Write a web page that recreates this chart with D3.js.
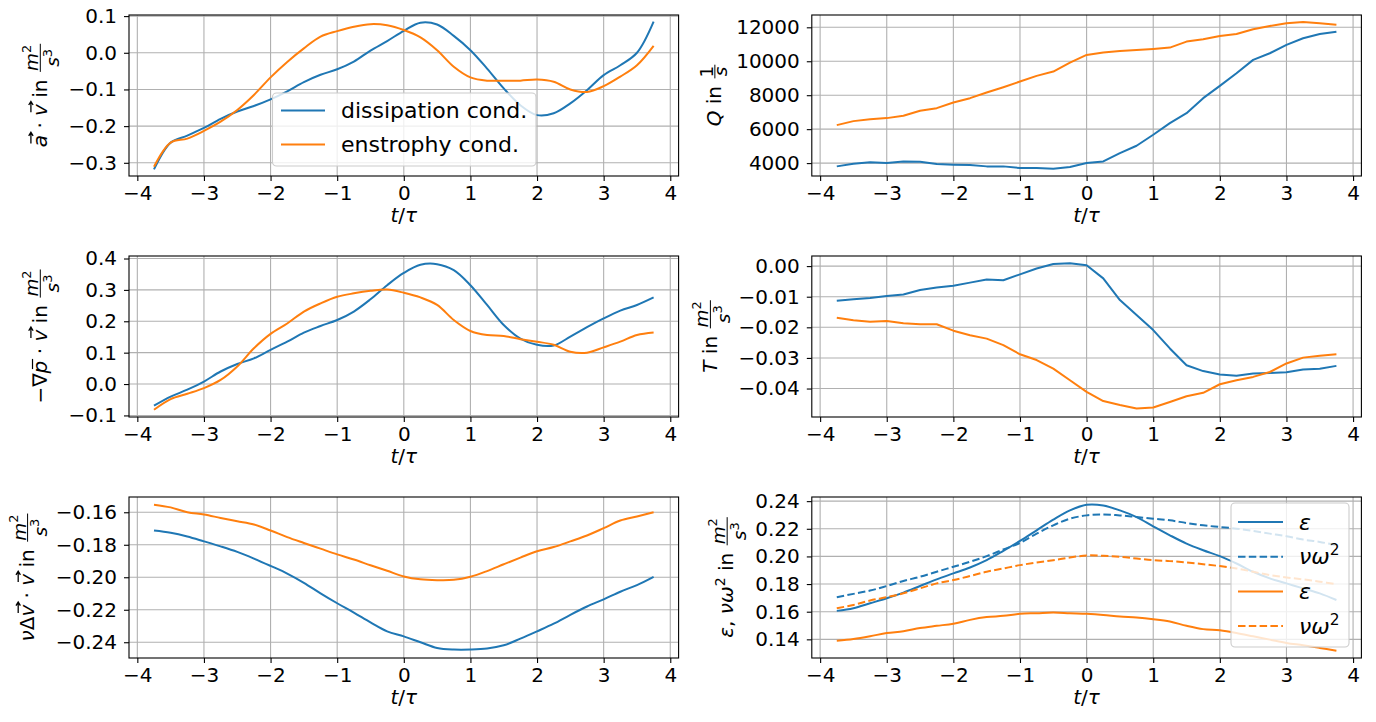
<!DOCTYPE html>
<html>
<head>
<meta charset="utf-8">
<script src="https://cdn.jsdelivr.net/npm/d3@7"></script>
<style>
  html, body { margin: 0; padding: 0; background: #fff; }
  svg { display: block; font-family: "DejaVu Sans", sans-serif; }
</style>
</head>
<body>
<svg id="fig" width="1376" height="722"></svg>
<script>
// ---- time axis (t / tau) shared by all panels ----
const tGrid = [-3.75, -3.5, -3.25, -3.0, -2.75, -2.5, -2.25, -2.0, -1.75, -1.5, -1.25, -1.0,
  -0.75, -0.5, -0.25, 0.0, 0.25, 0.5, 0.75, 1.0, 1.25, 1.5, 1.75, 2.0, 2.25, 2.5, 2.75,
  3.0, 3.25, 3.5, 3.75];
const xTicks = [-4, -3, -2, -1, 0, 1, 2, 3, 4];
const xTickLabels = ["\u22124", "\u22123", "\u22122", "\u22121", "0", "1", "2", "3", "4"];

// ---- a . v ----
const avDiss = [-0.318, -0.245, -0.226, -0.205, -0.180, -0.160, -0.145, -0.127, -0.105, -0.080,
  -0.060, -0.045, -0.024, 0.006, 0.032, 0.060, 0.082, 0.077, 0.046, 0.007, -0.043, -0.097,
  -0.143, -0.170, -0.165, -0.138, -0.102, -0.061, -0.034, 0.000, 0.085];
const avEns = [-0.311, -0.245, -0.234, -0.213, -0.188, -0.156, -0.115, -0.067, -0.025, 0.012,
  0.044, 0.059, 0.071, 0.078, 0.075, 0.062, 0.042, 0.007, -0.038, -0.067, -0.076, -0.076,
  -0.076, -0.073, -0.079, -0.100, -0.107, -0.091, -0.065, -0.034, 0.019];
const avTicks = [-0.3, -0.2, -0.1, 0.0, 0.1];
const avTickLabels = ["\u22120.3", "\u22120.2", "\u22120.1", "0.0", "0.1"];

// ---- Q ----
const qDiss = [3807, 3964, 4043, 4003, 4101, 4082, 3945, 3905, 3886, 3807, 3807, 3709, 3709,
  3670, 3768, 4003, 4101, 4591, 5022, 5670, 6355, 6943, 7825, 8550, 9295, 10080, 10471, 10961,
  11353, 11608, 11745];
const qEns = [6238, 6473, 6590, 6650, 6786, 7080, 7237, 7570, 7825, 8158, 8470, 8805, 9138,
  9393, 9920, 10373, 10510, 10608, 10667, 10726, 10804, 11157, 11294, 11490, 11608, 11882,
  12078, 12235, 12314, 12235, 12157];
const qTicks = [4000, 6000, 8000, 10000, 12000];
const qTickLabels = ["4000", "6000", "8000", "10000", "12000"];

// ---- -grad p . v ----
const pvDiss = [-0.069, -0.040, -0.018, 0.008, 0.040, 0.064, 0.082, 0.109, 0.135, 0.164, 0.185,
  0.204, 0.231, 0.270, 0.315, 0.354, 0.380, 0.382, 0.363, 0.315, 0.252, 0.188, 0.145, 0.125,
  0.123, 0.151, 0.181, 0.209, 0.234, 0.252, 0.276];
const pvEns = [-0.082, -0.048, -0.031, -0.013, 0.013, 0.056, 0.114, 0.160, 0.193, 0.231, 0.257,
  0.278, 0.289, 0.297, 0.301, 0.291, 0.276, 0.252, 0.204, 0.169, 0.156, 0.153, 0.143, 0.135,
  0.125, 0.103, 0.100, 0.117, 0.135, 0.156, 0.164];
const pvTicks = [-0.1, 0.0, 0.1, 0.2, 0.3, 0.4];
const pvTickLabels = ["\u22120.1", "0.0", "0.1", "0.2", "0.3", "0.4"];

// ---- T ----
const tDiss = [-0.0113, -0.0108, -0.0104, -0.0098, -0.0093, -0.0078, -0.0070, -0.0064, -0.0054,
  -0.0044, -0.0046, -0.0027, -0.0008, 0.0007, 0.0009, 0.0003, -0.0040, -0.0111, -0.0160,
  -0.0209, -0.0269, -0.0324, -0.0343, -0.0354, -0.0358, -0.0351, -0.0349, -0.0347, -0.0338,
  -0.0335, -0.0326];
const tEns = [-0.0169, -0.0177, -0.0182, -0.0179, -0.0187, -0.0190, -0.0190, -0.0211, -0.0226,
  -0.0237, -0.0258, -0.0288, -0.0307, -0.0335, -0.0373, -0.0411, -0.0441, -0.0454, -0.0465,
  -0.0462, -0.0444, -0.0425, -0.0414, -0.0386, -0.0373, -0.0362, -0.0346, -0.0318, -0.0299,
  -0.0293, -0.0288];
const tTicks = [-0.04, -0.03, -0.02, -0.01, 0.0];
const tTickLabels = ["\u22120.04", "\u22120.03", "\u22120.02", "\u22120.01", "0.00"];

// ---- nu Laplace v . v ----
const lvDiss = [-0.1712, -0.1726, -0.1749, -0.1779, -0.1810, -0.1844, -0.1885, -0.1930, -0.1977,
  -0.2034, -0.2099, -0.2160, -0.2217, -0.2278, -0.2333, -0.2364, -0.2400, -0.2435, -0.2445,
  -0.2445, -0.2439, -0.2419, -0.2378, -0.2333, -0.2286, -0.2231, -0.2180, -0.2136, -0.2089,
  -0.2048, -0.1997];
const lvEns = [-0.1553, -0.1570, -0.1600, -0.1614, -0.1635, -0.1655, -0.1675, -0.1712, -0.1753,
  -0.1789, -0.1824, -0.1859, -0.1891, -0.1926, -0.1960, -0.1995, -0.2013, -0.2018, -0.2016,
  -0.1997, -0.1962, -0.1920, -0.1879, -0.1840, -0.1814, -0.1779, -0.1743, -0.1698, -0.1651,
  -0.1626, -0.1600];
const lvTicks = [-0.24, -0.22, -0.20, -0.18, -0.16];
const lvTickLabels = ["\u22120.24", "\u22120.22", "\u22120.20", "\u22120.18", "\u22120.16"];

// ---- epsilon and nu omega^2 ----
const epsDiss = [0.1606, 0.1625, 0.1661, 0.1697, 0.1738, 0.1786, 0.1834, 0.1877, 0.1920, 0.1973,
  0.2040, 0.2112, 0.2189, 0.2266, 0.2333, 0.2374, 0.2369, 0.2333, 0.2285, 0.2218, 0.2153,
  0.2093, 0.2045, 0.2002, 0.1949, 0.1889, 0.1841, 0.1805, 0.1769, 0.1733, 0.1685];
const enstDiss = [0.1705, 0.1729, 0.1753, 0.1786, 0.1822, 0.1853, 0.1889, 0.1925, 0.1961, 0.2002,
  0.2050, 0.2098, 0.2165, 0.2225, 0.2273, 0.2297, 0.2304, 0.2297, 0.2285, 0.2273, 0.2261,
  0.2242, 0.2225, 0.2213, 0.2201, 0.2184, 0.2165, 0.2146, 0.2122, 0.2105, 0.2081];
const epsEns = [0.1390, 0.1402, 0.1422, 0.1446, 0.1458, 0.1482, 0.1498, 0.1513, 0.1541, 0.1561,
  0.1570, 0.1585, 0.1589, 0.1594, 0.1589, 0.1585, 0.1577, 0.1565, 0.1558, 0.1546, 0.1529,
  0.1498, 0.1474, 0.1465, 0.1446, 0.1422, 0.1398, 0.1374, 0.1357, 0.1338, 0.1318];
const enstEns = [0.1625, 0.1649, 0.1681, 0.1705, 0.1733, 0.1769, 0.1805, 0.1829, 0.1858, 0.1889,
  0.1913, 0.1937, 0.1956, 0.1973, 0.1992, 0.2007, 0.2004, 0.1997, 0.1985, 0.1973, 0.1966,
  0.1956, 0.1944, 0.1930, 0.1913, 0.1889, 0.1865, 0.1848, 0.1834, 0.1817, 0.1800];
const eTicks = [0.14, 0.16, 0.18, 0.20, 0.22, 0.24];
const eTickLabels = ["0.14", "0.16", "0.18", "0.20", "0.22", "0.24"];

const legendTopLeft = ["dissipation cond.", "enstrophy cond."];

// ---- styling ----
const BLUE = "#1f77b4", ORANGE = "#ff7f0e";
const FS = 20;                // tick and axis label font size
const LFS = 22;               // legend font size
const LW = 2;                 // data line width
const DASH = "7.5,3.3";
const FRAC = 0.92;            // size of fraction numerator/denominator relative to text

const svg = d3.select("#fig");
const colX = [129, 811.8];
const plotW = 549.6;
const rowY = [15, 256, 497];
const plotH = 161;

// Typesets a run of math-like pieces on a baseline; returns its advance width.
function typeset(g, parts, x0, y0, size) {
  let x = x0;
  for (const p of parts) {
    if (p.frac) {
      const s = size * FRAC;
      const gn = g.append("g"), gd = g.append("g");
      const wn = typeset(gn, p.frac.num, 0, 0, s);
      const wd = typeset(gd, p.frac.den, 0, 0, s);
      const w = Math.max(wn, wd) + size * 0.22;
      const axis = y0 - size * 0.31;
      const denTop = p.frac.den.some(q => q.sup) ? 0.93 * s : 0.56 * s;
      gn.attr("transform", `translate(${x + (w - wn) / 2},${axis - size * 0.1})`);
      gd.attr("transform", `translate(${x + (w - wd) / 2},${axis + size * 0.1 + denTop})`);
      g.append("line")
        .attr("x1", x + size * 0.06).attr("x2", x + w - size * 0.06)
        .attr("y1", axis).attr("y2", axis)
        .attr("stroke", "#000").attr("stroke-width", size * 0.05);
      x += w;
      continue;
    }
    const sz = p.sup ? size * 0.7 : size;
    const yb = p.sup ? y0 - size * 0.42 : y0;
    const el = g.append("text")
      .attr("x", x).attr("y", yb)
      .attr("font-size", sz)
      .attr("font-style", p.it ? "italic" : "normal")
      .attr("fill", "#000")
      .style("white-space", "pre")
      .text(p.t);
    const w = el.node().getComputedTextLength();
    const skew = p.it ? size * 0.12 : 0;
    if (p.vec) {
      const ya = y0 - size * 0.78;
      const xa = x + w * 0.1 + skew, xb = x + w * 1.02 + skew;
      g.append("path")
        .attr("d", `M${xa},${ya}L${xb},${ya}M${xb - size * 0.18},${ya - size * 0.11}L${xb},${ya}L${xb - size * 0.18},${ya + size * 0.11}`)
        .attr("fill", "none").attr("stroke", "#000").attr("stroke-width", size * 0.065);
    }
    if (p.bar) {
      const ya = y0 - size * 0.7;
      g.append("line")
        .attr("x1", x + w * 0.15 + skew).attr("x2", x + w * 0.95 + skew)
        .attr("y1", ya).attr("y2", ya)
        .attr("stroke", "#000").attr("stroke-width", size * 0.06);
    }
    x += w;
  }
  return x - x0;
}

const unitFrac = { frac: { num: [{ t: "m", it: 1 }, { t: "2", sup: 1 }], den: [{ t: "s", it: 1 }, { t: "3", sup: 1 }] } };
const xLabelParts = [{ t: "t", it: 1 }, { t: "/" }, { t: "\u03c4", it: 1 }];

const panels = [
  { col: 0, row: 0, domain: [-0.336, 0.103], ticks: avTicks, labels: avTickLabels,
    series: [{ v: avDiss, c: BLUE }, { v: avEns, c: ORANGE }], smooth: true,
    ylabel: [{ t: "a", it: 1, vec: 1 }, { t: " \u00b7 " }, { t: "v", it: 1, vec: 1 }, { t: " in " }, unitFrac] },
  { col: 1, row: 0, domain: [3240, 12725], ticks: qTicks, labels: qTickLabels,
    series: [{ v: qDiss, c: BLUE }, { v: qEns, c: ORANGE }], smooth: false,
    ylabel: [{ t: "Q", it: 1 }, { t: " in " }, { frac: { num: [{ t: "1" }], den: [{ t: "s", it: 1 }] } }] },
  { col: 0, row: 1, domain: [-0.105, 0.408], ticks: pvTicks, labels: pvTickLabels,
    series: [{ v: pvDiss, c: BLUE }, { v: pvEns, c: ORANGE }], smooth: true,
    ylabel: [{ t: "\u2212\u2207" }, { t: "p", it: 1, bar: 1 }, { t: " \u00b7 " }, { t: "v", it: 1, vec: 1 }, { t: " in " }, unitFrac] },
  { col: 1, row: 1, domain: [-0.0493, 0.0033], ticks: tTicks, labels: tTickLabels,
    series: [{ v: tDiss, c: BLUE }, { v: tEns, c: ORANGE }], smooth: false,
    ylabel: [{ t: "T", it: 1 }, { t: " in " }, unitFrac] },
  { col: 0, row: 2, domain: [-0.2497, -0.1506], ticks: lvTicks, labels: lvTickLabels,
    series: [{ v: lvDiss, c: BLUE }, { v: lvEns, c: ORANGE }], smooth: true,
    ylabel: [{ t: "\u03bd", it: 1 }, { t: "\u0394" }, { t: "v", it: 1, vec: 1 }, { t: " \u00b7 " }, { t: "v", it: 1, vec: 1 }, { t: " in " }, unitFrac] },
  { col: 1, row: 2, domain: [0.1265, 0.2430], ticks: eTicks, labels: eTickLabels,
    series: [{ v: epsDiss, c: BLUE }, { v: enstDiss, c: BLUE, dash: true },
             { v: epsEns, c: ORANGE }, { v: enstEns, c: ORANGE, dash: true }], smooth: true,
    ylabel: [{ t: "\u03b5", it: 1 }, { t: ", " }, { t: "\u03bd", it: 1 }, { t: "\u03c9", it: 1 }, { t: "2", sup: 1 }, { t: " in " }, unitFrac] }
];

panels.forEach(p => {
  const x0 = colX[p.col], y0 = rowY[p.row];
  const x = d3.scaleLinear().domain([-4.125, 4.125]).range([x0, x0 + plotW]);
  const y = d3.scaleLinear().domain(p.domain).range([y0 + plotH, y0]);
  const g = svg.append("g");

  // grid
  const grid = g.append("g").attr("stroke", "#b0b0b0").attr("stroke-width", 1.1);
  xTicks.forEach(v => grid.append("line").attr("x1", x(v)).attr("x2", x(v)).attr("y1", y0).attr("y2", y0 + plotH));
  p.ticks.forEach(v => grid.append("line").attr("x1", x0).attr("x2", x0 + plotW).attr("y1", y(v)).attr("y2", y(v)));

  // data lines
  const line = d3.line()
    .x((d, i) => x(tGrid[i]))
    .y(d => y(d))
    .curve(p.smooth ? d3.curveCatmullRom.alpha(0.5) : d3.curveLinear);
  p.series.forEach(s => {
    g.append("path").attr("d", line(s.v))
      .attr("fill", "none").attr("stroke", s.c).attr("stroke-width", LW)
      .attr("stroke-dasharray", s.dash ? DASH : null)
      .attr("stroke-linejoin", "round");
  });

  // frame
  g.append("rect").attr("x", x0).attr("y", y0).attr("width", plotW).attr("height", plotH)
    .attr("fill", "none").attr("stroke", "#000").attr("stroke-width", 1.1);

  // axes
  const xa = g.append("g").attr("transform", `translate(0,${y0 + plotH})`)
    .call(d3.axisBottom(x).tickValues(xTicks).tickSize(5).tickPadding(5)
      .tickFormat((d, i) => xTickLabels[i]));
  const ya = g.append("g").attr("transform", `translate(${x0},0)`)
    .call(d3.axisLeft(y).tickValues(p.ticks).tickSize(5).tickPadding(7)
      .tickFormat((d, i) => p.labels[i]));
  [xa, ya].forEach(a => {
    a.select(".domain").remove();
    a.selectAll(".tick line").attr("stroke", "#000").attr("stroke-width", 1.1);
    a.selectAll(".tick text").attr("font-size", FS).attr("fill", "#000")
      .attr("font-family", "DejaVu Sans, sans-serif");
  });

  // x label
  const xl = g.append("g");
  const wx = typeset(xl, xLabelParts, 0, 0, FS);
  xl.attr("transform", `translate(${x0 + plotW / 2 - wx / 2},${y0 + plotH + 46})`);

  // y label, placed left of the tick labels
  const tickLeft = ya.node().getBBox().x + x0;
  const yl = g.append("g");
  const inner = yl.append("g");
  typeset(inner, p.ylabel, 0, 0, FS);
  const bb = inner.node().getBBox();
  inner.attr("transform", `translate(${-bb.x - bb.width / 2},${-(bb.y + bb.height)})`);
  yl.attr("transform", `translate(${tickLeft - 5},${y0 + plotH / 2}) rotate(-90)`);
});

// legend: top-left panel
(function () {
  const lg = svg.append("g");
  lg.append("rect").attr("x", 272.5).attr("y", 93).attr("width", 263.5).attr("height", 73)
    .attr("rx", 4).attr("fill", "#fff").attr("fill-opacity", 0.8)
    .attr("stroke", "#cccccc").attr("stroke-width", 1.1);
  const cols = [BLUE, ORANGE];
  legendTopLeft.forEach((lab, i) => {
    const cy = 110.5 + i * 34;
    lg.append("line").attr("x1", 281).attr("x2", 325).attr("y1", cy).attr("y2", cy)
      .attr("stroke", cols[i]).attr("stroke-width", LW);
    lg.append("text").attr("x", 341).attr("y", cy + 7.7).attr("font-size", LFS).attr("fill", "#000").text(lab);
  });
})();

// legend: bottom-right panel
(function () {
  const lg = svg.append("g");
  lg.append("rect").attr("x", 1231).attr("y", 503).attr("width", 118).attr("height", 144)
    .attr("rx", 4).attr("fill", "#fff").attr("fill-opacity", 0.8)
    .attr("stroke", "#cccccc").attr("stroke-width", 1.1);
  const items = [
    { c: BLUE, dash: false, parts: [{ t: "\u03b5", it: 1 }] },
    { c: BLUE, dash: true, parts: [{ t: "\u03bd", it: 1 }, { t: "\u03c9", it: 1 }, { t: "2", sup: 1 }] },
    { c: ORANGE, dash: false, parts: [{ t: "\u03b5", it: 1 }] },
    { c: ORANGE, dash: true, parts: [{ t: "\u03bd", it: 1 }, { t: "\u03c9", it: 1 }, { t: "2", sup: 1 }] }
  ];
  items.forEach((it, i) => {
    const cy = 522 + i * 34.7;
    lg.append("line").attr("x1", 1238).attr("x2", 1283).attr("y1", cy).attr("y2", cy)
      .attr("stroke", it.c).attr("stroke-width", LW)
      .attr("stroke-dasharray", it.dash ? DASH : null);
    const tg = lg.append("g");
    typeset(tg, it.parts, 1299, cy + 7.7, LFS);
  });
})();
</script>
</body>
</html>
